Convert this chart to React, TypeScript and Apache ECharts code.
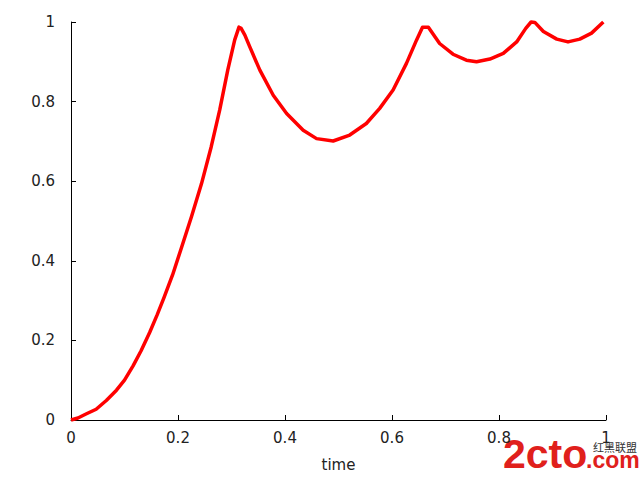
import React, { useEffect, useRef } from "react";
import * as echarts from "echarts";

const timeValues = [
  0, 0.013, 0.028, 0.047, 0.066, 0.085, 0.1, 0.116, 0.131, 0.147, 0.161, 0.174,
  0.19, 0.206, 0.225, 0.244, 0.262, 0.278, 0.293, 0.306, 0.314, 0.318, 0.325,
  0.334, 0.353, 0.378, 0.403, 0.434, 0.459, 0.49, 0.521, 0.552, 0.577, 0.602,
  0.627, 0.646, 0.657, 0.668, 0.689, 0.714, 0.739, 0.758, 0.783, 0.808, 0.833,
  0.85, 0.86, 0.867, 0.883, 0.908, 0.929, 0.951, 0.973, 0.995,
];
const seriesValues = [
  0, 0.005, 0.015, 0.027, 0.049, 0.075, 0.1, 0.136, 0.174, 0.22, 0.264, 0.308,
  0.365, 0.431, 0.51, 0.594, 0.686, 0.779, 0.879, 0.955, 0.987, 0.984, 0.967,
  0.938, 0.879, 0.816, 0.77, 0.728, 0.707, 0.701, 0.716, 0.745, 0.783, 0.829,
  0.896, 0.955, 0.987, 0.987, 0.946, 0.919, 0.904, 0.9, 0.907, 0.921, 0.95,
  0.984, 1.0, 0.999, 0.976, 0.957, 0.95, 0.957, 0.972, 1.0,
];
const xAxisName = "time";

export default function App() {
  const ref = useRef<HTMLDivElement>(null);
  useEffect(() => {
    if (!ref.current) return;
    const chart = echarts.init(ref.current, undefined, { renderer: "svg" });
    const axisLabel = {
      fontFamily: "DejaVu Sans",
      fontSize: 15,
      color: "#222",
    };
    chart.setOption({
      animation: false,
      backgroundColor: "#fff",
      grid: { left: 71, right: 34, top: 22, bottom: 60 },
      xAxis: {
        type: "value",
        min: 0,
        max: 1,
        interval: 0.2,
        name: xAxisName,
        nameLocation: "middle",
        nameGap: 37,
        nameTextStyle: { fontFamily: "DejaVu Sans", fontSize: 15, color: "#222" },
        axisLine: { show: true, lineStyle: { color: "#000", width: 1 } },
        axisTick: { show: true, inside: true, length: 5, lineStyle: { color: "#000" } },
        axisLabel: { ...axisLabel, margin: 10 },
        splitLine: { show: false },
      },
      yAxis: {
        type: "value",
        min: 0,
        max: 1,
        interval: 0.2,
        axisLine: { show: true, lineStyle: { color: "#000", width: 1 } },
        axisTick: { show: true, inside: true, length: 5, lineStyle: { color: "#000" } },
        axisLabel: { ...axisLabel, margin: 16 },
        splitLine: { show: false },
      },
      series: [
        {
          type: "line",
          data: timeValues.map((t, i) => [t, seriesValues[i]]),
          showSymbol: false,
          smooth: false,
          lineStyle: { color: "#ff0000", width: 3.5, join: "round" },
          clip: false,
        },
      ],
      graphic: [
        {
          type: "text",
          left: 503,
          top: 433,
          style: {
            text: "2cto",
            fontFamily: "Liberation Sans",
            fontWeight: "bold",
            fontSize: 41,
            fill: "#e0201c",
          },
        },
        {
          type: "text",
          left: 586,
          top: 448,
          style: {
            text: ".com",
            fontFamily: "Liberation Sans",
            fontWeight: "bold",
            fontSize: 23,
            fill: "#e0201c",
          },
        },
        {
          type: "text",
          left: 593,
          top: 441,
          style: {
            text: "红黑联盟",
            fontFamily: "Noto Sans CJK SC",
            fontSize: 11,
            fill: "#333",
          },
        },
      ],
    });
    return () => chart.dispose();
  }, []);
  return <div ref={ref} style={{ width: 640, height: 480, position: "absolute", left: 0, top: 0 }} />;
}
